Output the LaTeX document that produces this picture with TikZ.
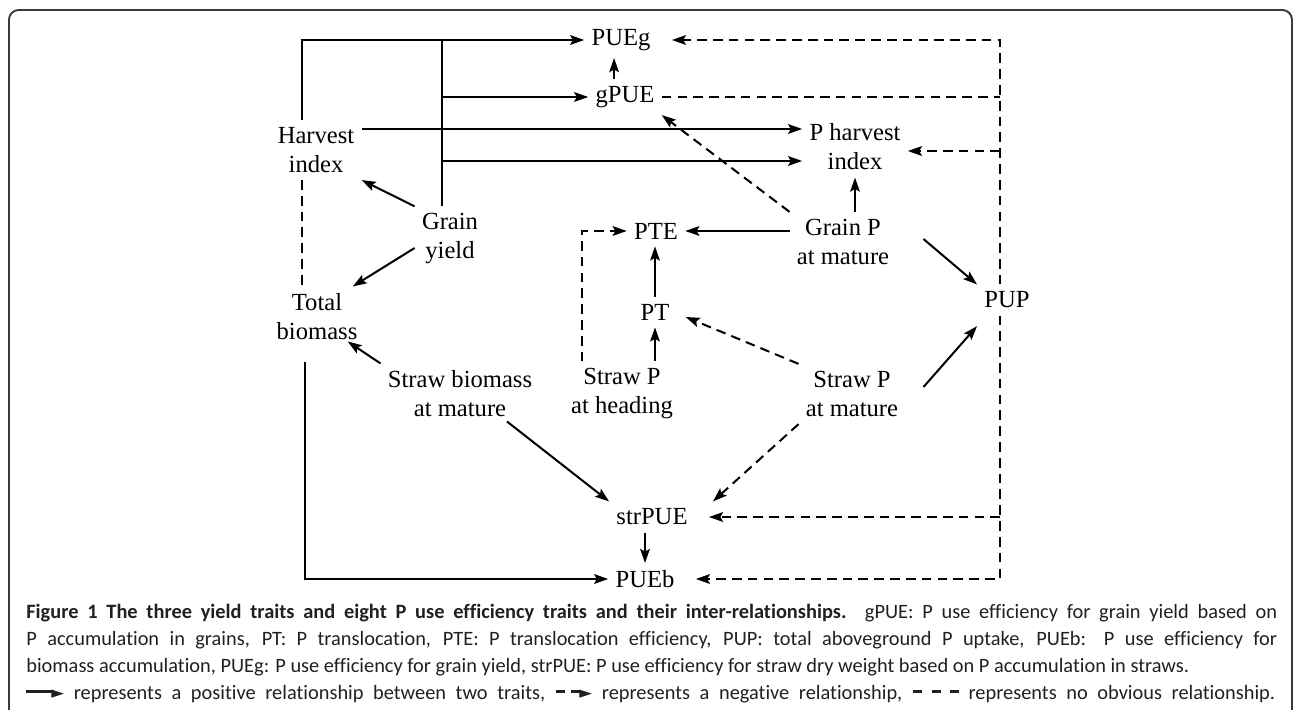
\documentclass[tikz,border=0pt]{standalone}
\usepackage{fontspec}
\setmainfont{Liberation Serif}
\newfontfamily\capfont[Ligatures=NoCommon]{Carlito}
\newfontfamily\symfont{DejaVu Sans}
\usepackage{tikz}
\usetikzlibrary{arrows.meta,calc}
\definecolor{frameGray}{HTML}{3A3A3A}
\definecolor{capText}{HTML}{231F20}
\tikzset{
  >=Stealth,
  trait/.style={align=center,inner sep=4pt,font=\fontsize{14}{16.5}\selectfont},
  posrel/.style ={-{Stealth[length=8pt,width=5.5pt,inset=1.5pt]},line width=1.15pt},
  negrel/.style ={-{Stealth[length=8pt,width=5.5pt,inset=1.5pt]},line width=1.15pt,dash pattern=on 5.5pt off 3.5pt},
  norel/.style  ={line width=1.15pt,dash pattern=on 5.5pt off 3.5pt},
  trunk/.style  ={line width=1.15pt},
  capline/.style={anchor=base west,inner sep=0,text=capText,font=\capfont\fontsize{11.6}{13}\selectfont},
}
% legend symbols for the caption
\newcommand\legtip{\raisebox{0.4pt}{\symfont\fontsize{9.5}{9.5}\selectfont\char"25BA}}
\newcommand\legdash{\rule[0.28em]{0.45em}{0.14em}}
\newcommand\legpos{\rule[0.28em]{1.35em}{0.14em}\kern-0.12em\legtip}
\newcommand\legneg{\legdash\kern0.3em\legdash\kern-0.05em\legtip}
\newcommand\legnil{\legdash\kern0.45em\legdash\kern0.45em\legdash}

\begin{document}
\begin{tikzpicture}[x=0.02cm,y=-0.02cm]
  \useasboundingbox (0,0) rectangle (1295,710);
  % frame
  \draw[frameGray,line width=1.1pt,rounded corners=5.5pt] (9,712) -- (9,10) -- (1292,10) -- (1292,712);

  % ---- traits ----
  \node[trait] (pueg)   at (621,40)  {PUEg};
  \node[trait] (gpue)   at (625,97)  {gPUE};
  \node[trait] (hi)     at (316,150) {Harvest\\index};
  \node[trait] (phi)    at (855,147) {P harvest\\index};
  \node[trait] (gy)     at (450,239) {Grain\\yield};
  \node[trait] (gpm)    at (843,242) {Grain P\\at mature};
  \node[trait] (pte)    at (656,231) {PTE};
  \node[trait] (pup)    at (1007,300) {PUP};
  \node[trait] (tb)     at (317,317) {Total\\biomass};
  \node[trait] (pt)     at (655,312) {PT};
  \node[trait] (sbm)    at (460,394) {Straw biomass\\at mature};
  \node[trait] (sph)    at (622,394) {Straw P\\at heading};
  \node[trait] (spm)    at (852,394) {Straw P\\at mature};
  \node[trait] (strpue) at (652,517) {strPUE};
  \node[trait] (pueb)   at (645,579) {PUEb};
  \coordinate (col) at (1000,300);

  % ---- top: PUEg, gPUE, P harvest index ----
  \draw[posrel] ([xshift=-7.9pt]hi.north) |- (pueg);
  \draw[trunk] ([xshift=-4.5pt]gy.north) -- ([xshift=-4.5pt]gy.north |- pueg);
  \draw[posrel] ([xshift=-4.5pt]gy.north |- gpue) -- (gpue);
  \draw[posrel] ([xshift=-4.5pt]gy.north |- 0,161) -- (phi.west |- 0,161);
  \draw[posrel] (hi.east |- 0,129) -- (phi.west |- 0,129);
  \draw[posrel] ([xshift=-6.2pt]gpue.north) -- ([xshift=-6.2pt]gpue.north |- pueg.south);
  \draw[negrel] (gpm.north west) -- (gpue.south east);
  \draw[posrel] (gpm.north -| phi) -- (phi.south);

  % ---- right: PUP column ----
  \draw[negrel,shorten >=8pt] (pup.north -| col) |- (pueg);
  \draw[norel] (gpue) -- (col |- gpue);
  \draw[negrel] (col |- 0,151) -- (phi.east |- 0,151);
  \draw[negrel,shorten >=8pt] (col |- strpue) -- (strpue);
  \draw[negrel,shorten >=8pt] (pup.south -| col) |- (pueb);

  % ---- middle ----
  \draw[posrel] (gpm.west |- pte) -- (pte);
  \draw[posrel] ($(gpm.east)+(27,-3)$) -- (pup.north west);
  \draw[posrel] (pt.north) -- (pt.north |- pte.south);
  \draw[posrel] (sph.north -| pt) -- (pt.south);
  \draw[negrel] ([xshift=-22.7pt]sph.north) |- (pte);
  \draw[negrel] (spm.north west) -- ($(pt.east)+(9,5)$);
  \draw[posrel] ($(spm.east)+(18,-7)$) -- ([yshift=-6pt]pup.south west);
  \draw[negrel] (spm.south west) -- ($(strpue.north east)+(18,0)$);

  % ---- left ----
  \draw[posrel] (gy.north west) -- (hi.south east);
  \draw[posrel] ($(gy.west)+(0,9)$) -- ($(tb.north east)+(-12,0)$);
  \draw[norel] ([xshift=-7.9pt]hi.south) -- ([xshift=-7.9pt]hi.south |- tb.north);
  \draw[posrel] (sbm.north west) -- ($(tb.south east)+(-17,-6)$);
  \draw[posrel] ($(sbm.south)+(47,-3)$) -- (strpue.north west);
  \draw[posrel] (strpue.south -| pueb) -- (pueb.north);
  \draw[posrel] ([xshift=-6.8pt,yshift=-8pt]tb.south) |- (pueb);

  % caption, one node per line
  \node[capline] (cap1) at (26,618) {\makebox[25.02cm][s]{{\bfseries Figure 1 The three yield traits and eight P use efficiency traits and their inter-relationships.} gPUE: P use efficiency for grain yield based on}};
  \node[capline] (cap2) at (26,645) {\makebox[25.02cm][s]{P accumulation in grains, PT: P translocation, PTE: P translocation efficiency, PUP: total aboveground P uptake, PUEb: P use efficiency for}};
  \node[capline] (cap3) at (26,672) {biomass accumulation, PUEg: P use efficiency for grain yield, strPUE: P use efficiency for straw dry weight based on P accumulation in straws.};
  \node[capline] (cap4) at (26,699) {\makebox[24.98cm][s]{\legpos{} represents a positive relationship between two traits, \legneg{} represents a negative relationship, \legnil{} represents no obvious relationship.}};
\end{tikzpicture}
\end{document}
